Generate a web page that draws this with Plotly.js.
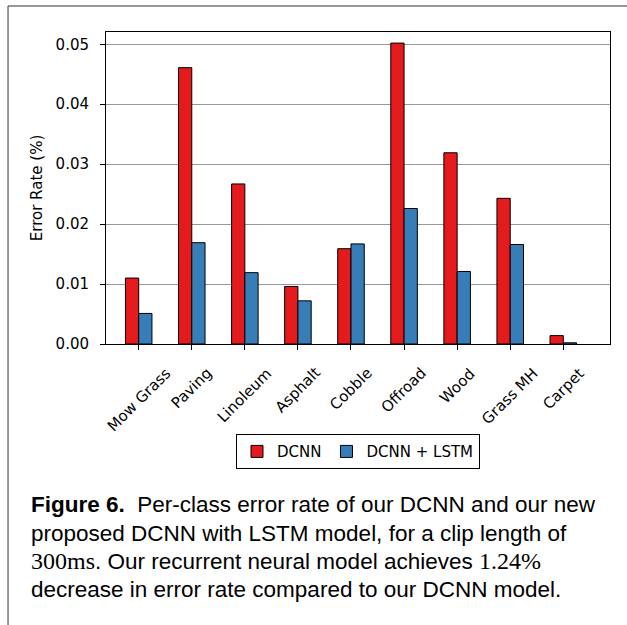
<!DOCTYPE html>
<html>
<head>
<meta charset="utf-8">
<script src="https://cdn.plot.ly/plotly-3.0.1.min.js"></script>
<style>
  body { margin: 0; padding: 0; background: #fff; }
  #errgraph { width: 627px; height: 625px; }
</style>
</head>
<body>
<div id="errgraph"></div>
<script>
// per-class error rate
var surfaces = ['Mow Grass', 'Paving', 'Linoleum', 'Asphalt', 'Cobble', 'Offroad', 'Wood', 'Grass MH', 'Carpet'];
var dcnnerror = [0.0110, 0.0461, 0.0267, 0.0096, 0.0159, 0.0502, 0.0319, 0.0243, 0.0014];
var lstmerror = [0.0051, 0.0169, 0.0119, 0.0072, 0.0167, 0.0226, 0.0121, 0.0166, 0.0002];
var ytickvals = [0, 0.01, 0.02, 0.03, 0.04, 0.05];

var tickfont = {family: 'DejaVu Sans', size: 15, color: '#000'};
var captionfont = {family: 'Liberation Sans', size: 22.5, color: '#000'};
var serif = "<span style='font-family:Liberation Serif;font-size:24px'>";

var bars = [
  {
    //DCNN bars
    x: surfaces,
    y: dcnnerror,
    type: 'bar',
    name: 'DCNN',
    marker: {color: '#e41a1c', line: {color: '#000', width: 1}},
    hoverinfo: 'x+y'
  },{
    //DCNN + LSTM bars
    x: surfaces,
    y: lstmerror,
    type: 'bar',
    name: 'DCNN + LSTM',
    marker: {color: '#377eb8', line: {color: '#000', width: 1}},
    hoverinfo: 'x+y'
  }];

//rotated category labels, centred on each tick
var labels = surfaces.map(function(s) {
  return {
    x: s, xref: 'x',
    y: -0.056, yref: 'paper',
    text: s,
    showarrow: false,
    textangle: -45,
    xanchor: 'center',
    yanchor: 'top',
    font: tickfont
  };
});

//figure caption lines
var captionlines = [
  '<b>Figure 6.</b>&nbsp;&nbsp;Per-class error rate of our DCNN and our new',
  'proposed DCNN with LSTM model, for a clip length of',
  serif + '300ms</span>. Our recurrent neural model achieves ' + serif + '1.24%</span>',
  'decrease in error rate compared to our DCNN model.'
];
var captiony = [-0.516, -0.606, -0.697, -0.788];
var caption = captionlines.map(function(t, i) {
  return {
    x: -0.152, xref: 'paper',
    y: captiony[i], yref: 'paper',
    text: t,
    showarrow: false,
    xanchor: 'left',
    yanchor: 'middle',
    align: 'left',
    font: captionfont
  };
});

var layout = {
  width: 627,
  height: 625,
  margin: {l: 106, r: 17, t: 32, b: 281},
  paper_bgcolor: '#fff',
  plot_bgcolor: '#fff',
  bargap: 0.5,
  bargroupgap: 0,
  barmode: 'group',
  showlegend: true,
  legend: {
    orientation: 'h',
    x: 0.5, xanchor: 'center',
    y: -0.289, yanchor: 'top',
    bordercolor: '#000',
    borderwidth: 1,
    font: tickfont,
    itemwidth: 30
  },
  xaxis: {
    type: 'category',
    range: [-0.616, 8.88],
    showticklabels: false,
    ticks: 'outside',
    ticklen: 5,
    tickcolor: '#000',
    showgrid: false,
    showline: true,
    linecolor: '#000',
    linewidth: 1,
    mirror: true,
    fixedrange: true
  },
  yaxis: {
    title: {text: 'Error Rate (%)', font: tickfont, standoff: 9},
    range: [0, 0.05205],
    tickvals: ytickvals,
    tickformat: '.2f',
    tickfont: tickfont,
    ticks: 'outside',
    ticklen: 5,
    tickcolor: '#000',
    ticklabelstandoff: 8,
    showgrid: true,
    gridcolor: '#999',
    gridwidth: 1,
    zeroline: false,
    showline: true,
    linecolor: '#000',
    linewidth: 1,
    mirror: true,
    fixedrange: true
  },
  annotations: labels.concat(caption),
  shapes: [
    //page frame, top and left edges
    {type: 'line', xref: 'paper', yref: 'paper', x0: -0.1944, x1: 1.04, y0: 1.0833, y1: 1.0833,
      line: {color: '#333', width: 1.2}},
    {type: 'line', xref: 'paper', yref: 'paper', x0: -0.1944, x1: -0.1944, y0: 1.0833, y1: -0.91,
      line: {color: '#555', width: 1.2}}
  ]
};

Plotly.newPlot('errgraph', bars, layout, {displayModeBar: false});
</script>
</body>
</html>
